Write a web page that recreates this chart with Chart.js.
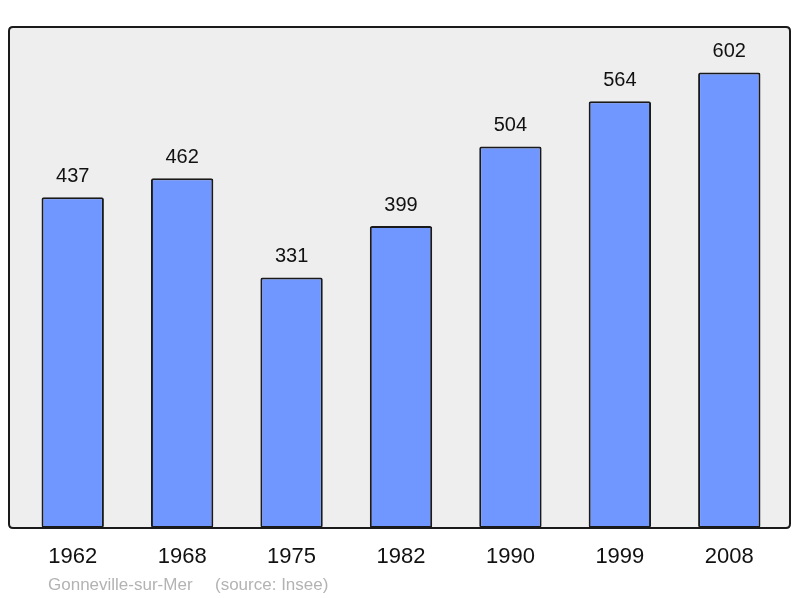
<!DOCTYPE html>
<html><head><meta charset="utf-8">
<script src="https://cdn.jsdelivr.net/npm/chart.js@4"></script>
<style>html,body{margin:0;padding:0;background:#fff}#c{display:block}</style>
</head><body>
<div style="width:800px;height:598px"><canvas id="c" width="800" height="598"></canvas></div>
<script>
const years = ["1962","1968","1975","1982","1990","1999","2008"];
const population = [437,462,331,399,504,564,602];
const placeName = "Gonneville-sur-Mer";
const sourceText = "(source: Insee)";

const FONT = "'Liberation Sans', Arial, sans-serif";

const framePlugin = {
  id: 'frame',
  beforeDraw(chart) {
    const ctx = chart.ctx, a = chart.chartArea;
    const x0 = 9, x1 = 790, y0 = a.top, y1 = a.bottom;
    ctx.save();
    ctx.beginPath();
    const r = 4;
    ctx.moveTo(x0 + r, y0);
    ctx.lineTo(x1 - r, y0); ctx.quadraticCurveTo(x1, y0, x1, y0 + r);
    ctx.lineTo(x1, y1 - r); ctx.quadraticCurveTo(x1, y1, x1 - r, y1);
    ctx.lineTo(x0 + r, y1); ctx.quadraticCurveTo(x0, y1, x0, y1 - r);
    ctx.lineTo(x0, y0 + r); ctx.quadraticCurveTo(x0, y0, x0 + r, y0);
    ctx.closePath();
    ctx.fillStyle = '#eeeeee';
    ctx.fill();
    ctx.lineWidth = 2;
    ctx.strokeStyle = '#1a1a1a';
    ctx.stroke();
    ctx.restore();
  },
  afterDatasetsDraw(chart) {
    const ctx = chart.ctx;
    const meta = chart.getDatasetMeta(0);
    ctx.save();
    ctx.font = "20px " + FONT;
    ctx.fillStyle = '#111';
    ctx.textAlign = 'center';
    ctx.textBaseline = 'middle';
    meta.data.forEach((bar, i) => {
      ctx.fillText(String(population[i]), bar.x, bar.y - 21);
    });
    ctx.font = "17px " + FONT;
    ctx.fillStyle = '#b3b3b3';
    ctx.textAlign = 'left';
    ctx.textBaseline = 'alphabetic';
    ctx.fillText(placeName, 48, 590);
    ctx.fillText(sourceText, 215, 590);
    ctx.restore();
  }
};

new Chart(document.getElementById('c'), {
  type: 'bar',
  data: {
    labels: years,
    datasets: [{
      data: population,
      backgroundColor: '#7096ff',
      borderColor: '#1a1a1a',
      borderWidth: 2,
      borderRadius: 2,
      borderSkipped: false,
      categoryPercentage: 1,
      barPercentage: 0.57
    }]
  },
  options: {
    responsive: false,
    animation: false,
    devicePixelRatio: 1,
    layout: { padding: { left: 18, right: 16, top: 27, bottom: 0 } },
    plugins: { legend: { display: false }, tooltip: { enabled: false }, title: { display: false } },
    scales: {
      y: { display: false, min: 0, max: 662 },
      x: {
        grid: { display: false, drawTicks: false },
        border: { display: false },
        ticks: { color: '#111', font: { size: 22, family: FONT }, padding: 16, maxRotation: 0 },
        afterFit(scale) { scale.height = 70; }
      }
    }
  },
  plugins: [framePlugin]
});
</script>
</body></html>
